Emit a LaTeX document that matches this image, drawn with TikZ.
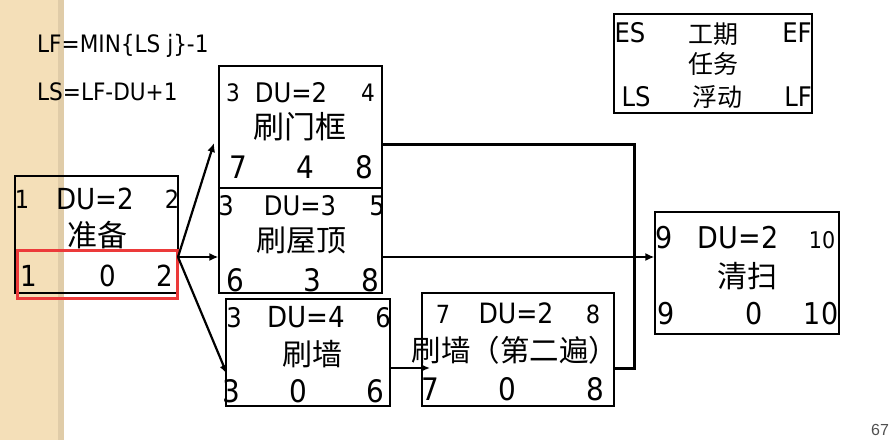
\documentclass[tikz,border=0pt]{standalone}
\usepackage{fontspec}
\setmainfont[FakeStretch=0.9]{DejaVu Sans}
\newfontfamily\cjk{Noto Sans CJK SC}
\newfontfamily\pgfont{Liberation Sans}
\usetikzlibrary{arrows.meta}
\definecolor{strip}{RGB}{244,223,184}
\definecolor{stripedge}{RGB}{224,204,168}
\definecolor{redbox}{RGB}{236,58,58}
\definecolor{pagegray}{RGB}{80,80,80}
\newcommand\myfs[1]{\fontsize{#1}{#1}\selectfont}
\begin{document}
\begin{tikzpicture}[x=1pt,y=-1pt,
  box/.style={draw, line width=1.2pt, inner sep=0pt, fill=none},
  tx/.style={inner sep=0pt, anchor=base},
  thickline/.style={line width=3pt},
  arr/.style={line width=2.2pt, -{Latex[length=9pt,width=8pt]}}]
\useasboundingbox (0,0) rectangle (891,440);
% left strip
\fill[strip] (0,0) rectangle (58,440);
\fill[stripedge] (58,0) rectangle (64,440);
% formulas
\node[tx, anchor=base west, font=\myfs{24}] (fa) at (37,52) {LF=MIN\{LS j\}-1};
\node[tx, anchor=base west, font=\myfs{24}] (fb) at (37,100) {LS=LF-DU+1};
% legend
\node[box, minimum width=198pt, minimum height=99pt] (L) at (713,63.5) {};
\node[tx,font=\myfs{27}] (les) at (630,42) {ES};
\node[tx,font=\cjk\myfs{25}] (lgq) at (713,43) {工期};
\node[tx,font=\myfs{27}] (lef) at (797,42) {EF};
\node[tx,font=\cjk\myfs{25}] (lrw) at (713,73) {任务};
\node[tx,font=\myfs{27}] (lls) at (636,106) {LS};
\node[tx,font=\cjk\myfs{25}] (lfd) at (717,106) {浮动};
\node[tx,font=\myfs{27}] (llf) at (798,106) {LF};
% boxes
\node[box, minimum width=163pt, minimum height=117pt] (A) at (96.5,234.5) {};
\node[box, minimum width=163pt, minimum height=122pt] (B) at (300.5,127) {};
\node[box, minimum width=163pt, minimum height=105pt] (C) at (300.5,240.5) {};
\node[box, minimum width=164pt, minimum height=107pt] (D) at (308,352.5) {};
\node[box, minimum width=192pt, minimum height=113pt] (E) at (518,349.5) {};
\node[box, minimum width=184pt, minimum height=122pt] (F) at (747,273) {};
\node[draw=redbox, line width=3pt, inner sep=0pt, minimum width=160pt, minimum height=48pt] (R) at (97,274) {};
% box A
\node[tx,font=\myfs{25}] (a1) at (22,208) {1};
\node[tx,font=\myfs{29}] (adu) at (95,209) {DU=2};
\node[tx,font=\myfs{25}] (a2) at (172,208) {2};
\node[tx,font=\cjk\myfs{30}] (an) at (97,246) {准备};
\node[tx,font=\myfs{29}] (a4) at (29,286) {1};
\node[tx,font=\myfs{29}] (a5) at (107.5,286) {0};
\node[tx,font=\myfs{29}] (a6) at (164.5,286) {2};
% box B
\node[tx,font=\myfs{24}] (b1) at (233,101) {3};
\node[tx,font=\myfs{27}] (bdu) at (291,102) {DU=2};
\node[tx,font=\myfs{24}] (b2) at (368,101) {4};
\node[tx,font=\cjk\myfs{31}] (bn) at (300,138) {刷门框};
\node[tx,font=\myfs{31}] (b4) at (238,178) {7};
\node[tx,font=\myfs{31}] (b5) at (305,178) {4};
\node[tx,font=\myfs{31}] (b6) at (364,178) {8};
% box C
\node[tx,font=\myfs{27}] (c1) at (226,215) {3};
\node[tx,font=\myfs{27}] (cdu) at (300,215) {DU=3};
\node[tx,font=\myfs{27}] (c2) at (377,215) {5};
\node[tx,font=\cjk\myfs{30}] (cn) at (301,251) {刷屋顶};
\node[tx,font=\myfs{31}] (c4) at (235,291) {6};
\node[tx,font=\myfs{31}] (c5) at (312,291) {3};
\node[tx,font=\myfs{31}] (c6) at (370,291) {8};
% box D
\node[tx,font=\myfs{27}] (d1) at (234,327) {3};
\node[tx,font=\myfs{29}] (ddu) at (306,327) {DU=4};
\node[tx,font=\myfs{27}] (d2) at (383,327) {6};
\node[tx,font=\cjk\myfs{30}] (dn) at (312,365) {刷墙};
\node[tx,font=\myfs{31}] (d4) at (231,402) {3};
\node[tx,font=\myfs{31}] (d5) at (298,402) {0};
\node[tx,font=\myfs{31}] (d6) at (375,402) {6};
% box E
\node[tx,font=\myfs{25}] (e1) at (443,323) {7};
\node[tx,font=\myfs{28}] (edu) at (516,323) {DU=2};
\node[tx,font=\myfs{25}] (e2) at (593,323) {8};
\node[tx,font=\cjk\myfs{29.5}] (en) at (515,361) {刷墙（第二遍）};
\node[tx,font=\myfs{31}] (e4) at (430,400) {7};
\node[tx,font=\myfs{31}] (e5) at (507,400) {0};
\node[tx,font=\myfs{31}] (e6) at (595,400) {8};
% box F
\node[tx,font=\myfs{30}] (g1) at (664,248) {9};
\node[tx,font=\myfs{30}] (gdu) at (738,248) {DU=2};
\node[tx,font=\myfs{23}] (g2) at (822,248) {10};
\node[tx,font=\cjk\myfs{30}] (gn) at (747,287) {清扫};
\node[tx,font=\myfs{30}] (g4) at (666,324) {9};
\node[tx,font=\myfs{30}] (g5) at (754,324) {0};
\node[tx,font=\myfs{30}] (g6) at (821,324) {10};
% page number
\node[tx,font=\pgfont\myfs{16}, text=pagegray] (pg) at (880,435) {67};
% connectors
\coordinate (as) at (178,257);
\coordinate (bt) at (214,143);
\coordinate (dt) at (227,374);
\draw[arr] (as) -- (bt);
\draw[arr] (as) -- (C.west |- as);
\draw[arr] (as) -- (dt);
\coordinate (bo) at (382,144);
\coordinate (eo) at (614,368);
\coordinate (j) at (634,257);
\draw[thickline] (bo) -| (j);
\draw[thickline] (eo) -| (j);
\draw[arr] (C.east |- as) -- (F.west |- as);
\coordinate (de) at (390,368);
\coordinate (et) at (430,368);
\draw[arr, line width=2.5pt] (de) -- (et);
\end{tikzpicture}
\end{document}
